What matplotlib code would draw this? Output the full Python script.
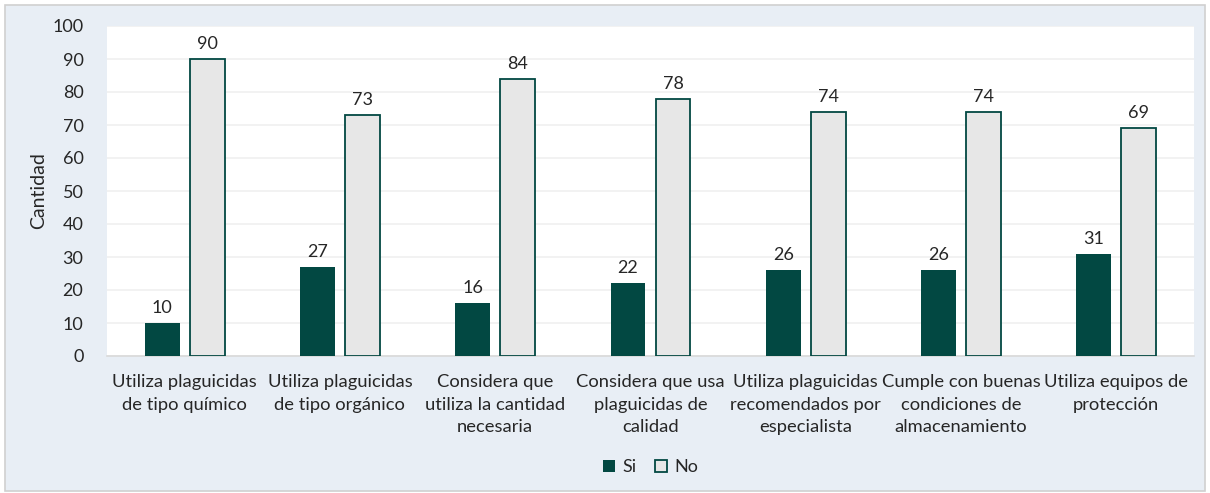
import numpy as np
import matplotlib.pyplot as plt
from matplotlib.patches import Rectangle

categorias = [
    "Utiliza plaguicidas\nde tipo químico",
    "Utiliza plaguicidas\nde tipo orgánico",
    "Considera que\nutiliza la cantidad\nnecesaria",
    "Considera que usa\nplaguicidas de\ncalidad",
    "Utiliza plaguicidas\nrecomendados por\nespecialista",
    "Cumple con buenas\ncondiciones de\nalmacenamiento",
    "Utiliza equipos de\nprotección",
]
si = [10, 27, 16, 22, 26, 26, 31]
no = [90, 73, 84, 78, 74, 74, 69]

verde = "#024842"
gris = "#E7E7E7"
fondo = "#E8EEF5"
texto = "#262626"

plt.rcParams["font.family"] = ["Lato", "DejaVu Sans"]

fig = plt.figure(figsize=(12.10, 4.93), dpi=100)
fig.patch.set_facecolor("white")
# marco de fondo del gráfico, por detrás de los ejes
fig.patches.append(Rectangle((5 / 1210, 0.004), 1 - 10 / 1210, 1 - 5 / 493 - 0.004,
                             transform=fig.transFigure, facecolor=fondo,
                             edgecolor="#D0D0D0", linewidth=1.2, zorder=-10))

ax = fig.add_axes([107 / 1210, 1 - 356 / 493, (1194 - 107) / 1210, (356 - 26) / 493])
ax.set_facecolor("white")

x = np.arange(len(categorias))
w = 0.225
off = 0.145
b1 = ax.bar(x - off, si, w, color=verde, label="Si", zorder=3)
b2 = ax.bar(x + off, no, w, color=gris, edgecolor=verde, linewidth=1.3,
            label="No", zorder=3)
for barras in (b1, b2):
    ax.bar_label(barras, padding=5, fontsize=13, color=texto)

ax.set_xlim(-0.5, len(categorias) - 0.5)
ax.set_ylim(0, 100)
ax.set_yticks(range(0, 101, 10))
ax.yaxis.grid(True, color="#F0F0F0", linewidth=1.2, zorder=0)
ax.set_axisbelow(True)
for s in ("top", "right", "left"):
    ax.spines[s].set_visible(False)
ax.spines["bottom"].set_color("#D9D9D9")
ax.spines["bottom"].set_linewidth(1.2)
ax.tick_params(axis="both", length=0, labelsize=13, colors=texto)
ax.tick_params(axis="y", pad=17)
ax.tick_params(axis="x", pad=13)
ax.set_xticks(x)
ax.set_xticklabels(categorias, linespacing=1.5, fontsize=13.2)
ax.set_ylabel("Cantidad", fontsize=14, color=texto, labelpad=4)

ax.legend(loc="center", bbox_to_anchor=(0.5, -0.337), ncol=2, frameon=False,
          fontsize=13, handlelength=0.7, handleheight=0.7, handletextpad=0.4,
          columnspacing=1.0, labelcolor=texto)

fig.savefig("out.png", dpi=100, facecolor=fig.get_facecolor())
